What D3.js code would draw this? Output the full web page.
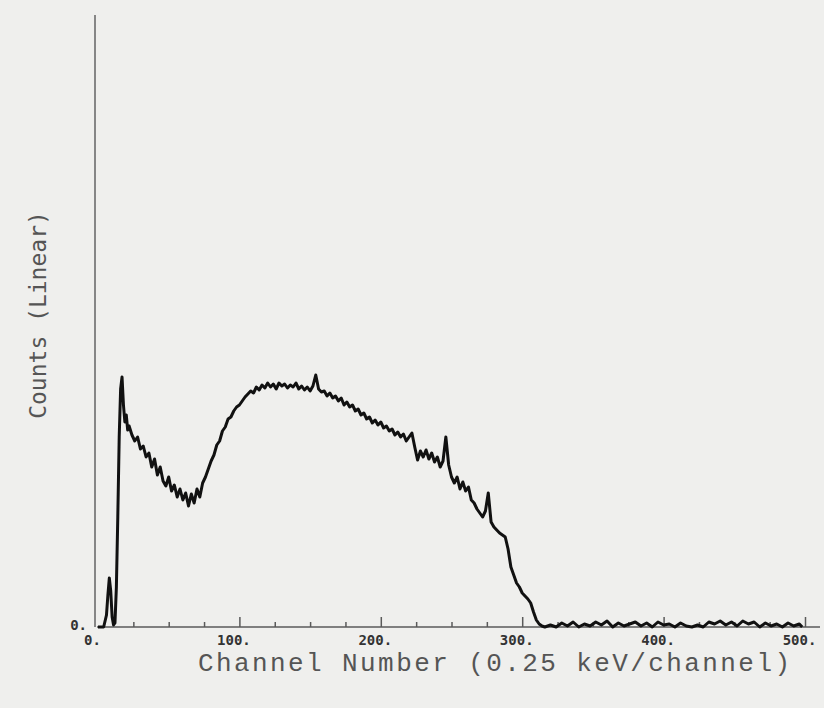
<!DOCTYPE html>
<html>
<head>
<meta charset="utf-8">
<script src="https://cdn.jsdelivr.net/npm/d3@7"></script>
<style>
  html, body { margin: 0; padding: 0; background: #efefed; }
  svg { display: block; }
</style>
</head>
<body>
<svg id="chart" width="824" height="708"></svg>
<script>
// ---- Data (counts in arbitrary linear units) ----
const channels = [
  0, 2, 4, 6, 7, 8, 9, 10, 11, 12, 13, 14, 15, 16, 17, 18, 19, 20, 21, 22,
  24, 26, 28, 30, 32, 34, 36, 38, 40, 42, 44, 46, 48, 50, 52, 54, 56, 58, 60,
  62, 64, 66, 68, 70, 72, 74, 76, 78, 80, 82, 84, 86, 88, 90, 92, 94, 96, 98,
  100, 102, 104, 106, 108, 110, 112, 114, 116, 118, 120, 122, 124, 126, 128,
  130, 132, 134, 136, 138, 140, 142, 144, 146, 148, 150, 152, 154, 156, 158,
  160, 162, 164, 166, 168, 170, 172, 174, 176, 178, 180, 182, 184, 186, 188,
  190, 192, 194, 196, 198, 200, 202, 204, 206, 208, 210, 212, 214, 216, 218,
  220, 222, 224, 226, 228, 230, 232, 234, 236, 238, 240, 242, 244, 246, 248,
  250, 252, 254, 256, 258, 260, 262, 264, 266, 268, 270, 272, 274, 276, 278,
  280, 282, 284, 286, 288, 290, 292, 294, 296, 298, 300, 302, 304, 306, 308,
  310, 312, 314, 316, 320, 324, 328, 332, 336, 340, 344, 348, 352, 356, 360,
  364, 368, 372, 376, 380, 384, 388, 392, 396, 400, 404, 408, 412, 416, 420,
  424, 428, 432, 436, 440, 444, 448, 452, 456, 460, 464, 468, 472, 476, 480,
  484, 488, 492, 496, 498
];
const counts = [
  0, 0, 0, 12, 32, 49, 36, 10, 2, 4, 40, 110, 190, 238, 250, 222, 205, 212, 197, 201,
  192, 186, 190, 178, 181, 170, 174, 160, 168, 152, 160, 146, 141, 150, 136, 142, 130, 138, 127,
  134, 121, 133, 124, 138, 130, 144, 150, 158, 166, 172, 182, 186, 196, 200, 208, 210, 216, 220,
  222, 226, 230, 233, 236, 234, 240, 237, 242, 239, 244, 240, 243, 238, 244,
  241, 243, 239, 242, 240, 244, 238, 241, 237, 240, 236, 241, 252, 238, 235,
  236, 231, 234, 229, 231, 226, 229, 222, 225, 220, 222, 216, 218, 212, 214,
  208, 210, 204, 207, 202, 205, 199, 201, 196, 198, 192, 195, 190, 193, 186,
  190, 194, 180, 167, 176, 170, 177, 168, 174, 165, 170, 160, 166, 190, 162,
  150, 144, 150, 138, 145, 136, 140, 127, 124, 118, 114, 110, 116, 134, 105,
  100, 97, 94, 92, 90, 78, 60, 52, 44, 40, 34, 31, 28, 24, 15,
  7, 3, 1, 0, 2, 0, 4, 1, 5, 0, 3, 1, 5, 2, 6,
  0, 4, 1, 3, 5, 1, 4, 0, 5, 2, 3, 0, 4, 1, 0,
  2, 0, 5, 3, 6, 2, 5, 1, 6, 3, 5, 0, 4, 1, 3,
  0, 4, 1, 3, 0
];
const majorTicks = [0, 100, 200, 300, 400, 500];
const minorTicks = [25, 50, 75, 125, 150, 175, 225, 250, 275, 325, 350, 375, 425, 450, 475];
const yTicks = [0];
const xTitle = "Channel Number (0.25 keV/channel)";
const yTitle = "Counts (Linear)";

// ---- Layout ----
const svg = d3.select("#chart");
const x0 = 98, x1 = 805, yBase = 627, yTop = 15;
const x = d3.scaleLinear().domain([0, 500]).range([x0, x1]);
const y = d3.scaleLinear().domain([0, 612]).range([yBase, yTop]);
const axisColor = "#5a5a5a";

// Major ticks with labels (ticks point up into the plot)
const gMajor = svg.append("g").attr("transform", `translate(0,${yBase})`)
  .call(d3.axisBottom(x).tickValues(majorTicks).tickSizeInner(-10).tickSizeOuter(0)
    .tickPadding(0).tickFormat(d => d + "."));
gMajor.select(".domain").remove();
gMajor.selectAll(".tick line").attr("stroke", axisColor).attr("stroke-width", 1.5);
gMajor.selectAll(".tick text")
  .attr("y", 18).attr("dy", null)
  .attr("fill", "#333").attr("font-family", "DejaVu Sans Mono").attr("font-weight", "bold")
  .attr("font-size", 14).attr("dx", -6);
gMajor.selectAll(".tick").filter(d => d === 0).select("line").remove();

// Minor ticks
const gMinor = svg.append("g").attr("transform", `translate(0,${yBase})`)
  .call(d3.axisBottom(x).tickValues(minorTicks).tickSizeInner(-5).tickSizeOuter(0).tickFormat(""));
gMinor.select(".domain").remove();
gMinor.selectAll(".tick line").attr("stroke", axisColor).attr("stroke-width", 1.5);

// Baseline (x axis line) and y axis line
svg.append("line").attr("x1", x0 - 1).attr("x2", 820).attr("y1", yBase).attr("y2", yBase)
  .attr("stroke", axisColor).attr("stroke-width", 1.6);
svg.append("line").attr("x1", 95).attr("x2", 95).attr("y1", yTop).attr("y2", yBase)
  .attr("stroke", axisColor).attr("stroke-width", 1.4);

// Y tick label
svg.append("g").selectAll("text").data(yTicks).join("text")
  .attr("x", 87).attr("y", d => y(d) + 3)
  .attr("text-anchor", "end")
  .attr("fill", "#333").attr("font-family", "DejaVu Sans Mono").attr("font-weight", "bold")
  .attr("font-size", 14).text(d => d + ".");

// Spectrum line
const data = channels.map((c, i) => ({ c, v: counts[i] }));
svg.append("path").datum(data)
  .attr("fill", "none").attr("stroke", "#111").attr("stroke-width", 3)
  .attr("stroke-linejoin", "round")
  .attr("d", d3.line().x(d => x(d.c)).y(d => y(d.v)));

// Axis titles
svg.append("text").attr("x", 198).attr("y", 671)
  .attr("font-family", "Liberation Mono").attr("font-size", 26).attr("fill", "#555")
  .attr("textLength", 592).attr("lengthAdjust", "spacing")
  .text(xTitle);
svg.append("text")
  .attr("transform", "translate(46,315) rotate(-90)")
  .attr("text-anchor", "middle")
  .attr("font-family", "DejaVu Sans Mono").attr("font-size", 23).attr("fill", "#555")
  .text(yTitle);
</script>
</body>
</html>
